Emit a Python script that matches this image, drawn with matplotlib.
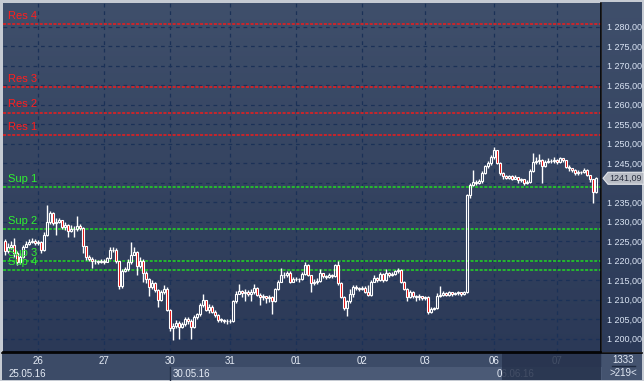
import numpy as np
import matplotlib
matplotlib.use("Agg")
import matplotlib.pyplot as plt
from matplotlib.patches import Rectangle, Polygon
from matplotlib.colors import LinearSegmentedColormap
from matplotlib.lines import Line2D

plt.rcParams['font.family'] = ['Liberation Sans', 'DejaVu Sans']

# ---------------- data ----------------
first_open = 1225.0
closes = [1222.5, 1223.5, 1224, 1222, 1219.5, 1221, 1223.5, 1224.2, 1224.8, 1225,
          1224.6, 1224.8, 1222.7, 1226.5, 1229.8, 1232.2, 1229.6, 1230, 1230.3, 1228.6,
          1229, 1227.6, 1228.2, 1228, 1228.8, 1228.4, 1223.6, 1220.8, 1220.4, 1219.9,
          1219.8, 1219.6, 1219.8, 1219.7, 1220.6, 1222.6, 1222.8, 1219.8, 1213.5, 1217.3,
          1217.8, 1219.5, 1221.5, 1222.2, 1218.5, 1220, 1216.8, 1215.2, 1213.2, 1214.2,
          1212.4, 1210, 1211.8, 1212.8, 1207.4, 1202.8, 1203.2, 1204, 1203, 1203.6,
          1205, 1204.6, 1203, 1205.4, 1206.2, 1208.6, 1209.8, 1207.4, 1208.2, 1206.8,
          1206, 1204.8, 1204.8, 1204.6, 1204.4, 1204.6, 1209.5, 1211.5, 1212.2, 1211.6,
          1212, 1211.4, 1211.8, 1213, 1211.2, 1210.6, 1210.8, 1210.4, 1210.6, 1209.6,
          1212.6, 1214.6, 1216.3, 1216.2, 1216.8, 1214.6, 1215.2, 1215.3, 1215.2, 1216.5,
          1218.8, 1216.3, 1214.2, 1214.6, 1214.8, 1216.8, 1216, 1215.8, 1216.2, 1216,
          1218.8, 1214.2, 1210.7, 1207.8, 1209.5, 1211.5, 1213.2, 1213, 1212.6, 1213,
          1212, 1211.2, 1214.5, 1215.5, 1215, 1216.6, 1215, 1216.8, 1216.2, 1216.6,
          1217.2, 1217.6, 1214.5, 1212.8, 1210.6, 1212, 1210.8, 1210.6, 1210.8, 1210.4,
          1210.6, 1206.8, 1207.5, 1207.8, 1211, 1211.2, 1211.6, 1211.2, 1211.8, 1211.4,
          1211.6, 1211.8, 1211.5, 1211.8, 1236.8, 1239.3, 1240.2, 1240, 1240.4, 1242.5,
          1244.2, 1245, 1246.5, 1248.3, 1245, 1242.4, 1241.6, 1241.2, 1241.6, 1241,
          1241.4, 1240.6, 1240.8, 1239.8, 1240.2, 1243, 1245.2, 1245.5, 1245.8, 1244.2,
          1245.2, 1245.6, 1245.4, 1245.8, 1245.3, 1246.2, 1245.8, 1244, 1243.6, 1243.2,
          1242.5, 1242.8, 1242.6, 1243.2, 1241.9, 1240.8, 1237.5, 1241.09]
highs = [1225.5, 1224.5, 1225, 1225.8, 1222.5, 1221.8, 1224, 1225, 1225.6, 1225.8,
         1225.4, 1225.3, 1225, 1227.2, 1234.3, 1232.8, 1232.4, 1230.8, 1231, 1230.5,
         1229.8, 1229.4, 1229, 1228.8, 1231.5, 1229.3, 1228.6, 1223.8, 1221.4, 1220.8,
         1220.4, 1220.2, 1220.4, 1220.3, 1221, 1223.5, 1223.4, 1223.2, 1220, 1217.8,
         1218.4, 1220.3, 1224.8, 1223.5, 1222.4, 1220.8, 1220.4, 1217.2, 1215.6, 1215,
         1214.4, 1212.6, 1212.4, 1213.6, 1213.2, 1207.6, 1204, 1204.8, 1204.4, 1204.2,
         1205.6, 1205.4, 1205, 1206, 1206.6, 1209, 1211.4, 1210, 1208.8, 1208.6,
         1207.4, 1206.4, 1205.2, 1205, 1205, 1205, 1209.8, 1212.2, 1214, 1212.4,
         1212.8, 1212.4, 1212.6, 1214, 1213.2, 1211.6, 1211.4, 1211, 1211.2, 1210.8,
         1213, 1215, 1218, 1217, 1217.2, 1217.2, 1215.8, 1215.8, 1215.6, 1217,
         1219.6, 1219, 1216.4, 1215.2, 1215.4, 1217.8, 1216.8, 1216.4, 1216.8, 1216.5,
         1219.2, 1220, 1214.4, 1210.8, 1210, 1212.8, 1213.6, 1213.6, 1213.2, 1213.5,
         1213.4, 1213.8, 1215, 1216.2, 1215.8, 1217, 1216.8, 1217.9, 1217, 1217,
         1217.6, 1218, 1217.8, 1214.8, 1213, 1212.4, 1212.2, 1211.2, 1211.4, 1211,
         1211, 1210.8, 1208, 1208.2, 1211.6, 1213.5, 1212.2, 1212, 1212.2, 1212,
         1212, 1212.2, 1212, 1212.2, 1237, 1240, 1243.2, 1240.6, 1241, 1243,
         1244.6, 1245.6, 1247, 1249, 1248.4, 1245.2, 1242.6, 1242, 1242, 1241.8,
         1241.8, 1241.4, 1241.2, 1240.8, 1240.6, 1243.4, 1247.5, 1246.6, 1247.2, 1246,
         1245.8, 1246.2, 1246, 1246.6, 1246, 1246.6, 1246.4, 1245.9, 1244.4, 1243.8,
         1243.4, 1243.2, 1243, 1243.6, 1243.4, 1242, 1241, 1241.5]
lows = [1221.5, 1222, 1223, 1220.8, 1218.8, 1219, 1220.6, 1223.4, 1224, 1224.4,
        1224, 1224, 1222, 1222.4, 1226.3, 1229.4, 1229, 1226.5, 1229.6, 1228,
        1227.8, 1226, 1227.2, 1226, 1227.6, 1227.8, 1222, 1220.2, 1219.8, 1218,
        1219.2, 1219, 1219.3, 1219.2, 1219.5, 1220.4, 1222.2, 1219.4, 1212.8, 1213,
        1217, 1217.4, 1219, 1221.5, 1216.2, 1218, 1214.6, 1214.2, 1211, 1212.8,
        1211.8, 1208, 1209.6, 1211.4, 1207, 1202, 1199.5, 1202.6, 1200, 1202.8,
        1203.2, 1203.8, 1200, 1202.6, 1205, 1205.8, 1208.2, 1207, 1206.6, 1206.5,
        1205.6, 1204.3, 1204.2, 1204.1, 1203.8, 1204, 1204.2, 1209.2, 1211.4, 1210.6,
        1209.5, 1210.8, 1209.6, 1211.4, 1210.8, 1208.6, 1209.8, 1209, 1209.4, 1206.4,
        1209.4, 1212.4, 1214.5, 1215.6, 1215.8, 1214.2, 1214.4, 1214.8, 1214.6, 1215,
        1216.3, 1216, 1212, 1213.8, 1214, 1214.4, 1215.4, 1215.2, 1215.6, 1215.5,
        1215.8, 1213.8, 1210.4, 1207.4, 1205.8, 1209.2, 1210.6, 1212.4, 1212.2, 1212.4,
        1211.6, 1210.9, 1211, 1214.8, 1214.6, 1214.8, 1214.6, 1214.8, 1215.8, 1215.9,
        1216.2, 1216.9, 1214.2, 1212.5, 1209.6, 1210.4, 1210.4, 1209.6, 1210, 1209.8,
        1210, 1206.4, 1206.6, 1207.2, 1207.6, 1210.6, 1210.8, 1210.8, 1211, 1211,
        1211.2, 1211.2, 1211, 1211.2, 1211.6, 1236, 1239, 1239.4, 1239.6, 1240,
        1242.2, 1243.8, 1244.6, 1246, 1244.8, 1242, 1241, 1240.8, 1240.8, 1240.6,
        1240.8, 1240, 1240.2, 1239.4, 1239.6, 1239.8, 1242.6, 1244.8, 1244.8, 1240,
        1244, 1245, 1244.9, 1245, 1244.8, 1245, 1245.3, 1243.6, 1243, 1242.6,
        1242, 1242, 1242.2, 1242.4, 1241.6, 1240.2, 1234.7, 1237.2]

day_labels = ["26", "27", "30", "31", "01", "02", "03", "06", "07"]
day_start = [11, 33, 55, 75, 97, 119, 140, 163, 184]
date_labels = ["25.05.16", "30.05.16", "06.06.16"]
date_pos = [1, 56, 164]

res_names = ["Res 1", "Res 2", "Res 3", "Res 4"]
res_values = [1252.1, 1257.9, 1264.4, 1280.6]
sup_names = ["Sup 1", "Sup 2", "Sup 3", "Sup 4"]
sup_values = [1238.8, 1228.0, 1219.8, 1217.5]

ytick_values = list(range(1200, 1281, 5))
last_price = 1241.09
last_price_text = "1241,09"
bar_count = "1333"
bar_visible = ">219<"

# ---------------- figure ----------------
W, H = 644, 381
fig = plt.figure(figsize=(W / 100, H / 100), dpi=100)
fig.patch.set_facecolor('#c6cbd3')

def fr(x, y):
    return x / W, 1 - y / H

def rect(x0, y0, x1, y1, color, z=-1, alpha=1.0):
    fx0, fy1 = fr(x0, y1)
    r = Rectangle((fx0, fy1), (x1 - x0) / W, (y1 - y0) / H, transform=fig.transFigure,
                  facecolor=color, edgecolor='none', zorder=z, alpha=alpha)
    fig.add_artist(r)

grad_cmap = LinearSegmentedColormap.from_list('bg', ['#2b3957', '#3f4f6b'])
bgax = fig.add_axes([0, 0, 1, 1], zorder=-2)
bgax.set_axis_off()
bgax.set_xlim(0, W)
bgax.set_ylim(H, 0)
grad = np.linspace(0, 1, 256)[:, None]
bgax.imshow(grad, extent=[602, 642, 352, 2], cmap=grad_cmap, aspect='auto', origin='lower')
bgax.add_patch(Rectangle((2, 353), 600, 27, facecolor='#3c4b67', edgecolor='none'))
bgax.add_patch(Rectangle((170, 367), 432, 13, facecolor='#4b5a76', edgecolor='none'))
bgax.add_patch(Rectangle((602, 353), 40, 27, facecolor='#44536f', edgecolor='none'))

ax = fig.add_axes([3 / W, (H - 352) / H, 598 / W, 349 / H])
n = len(closes)
ax.set_xlim(-0.7, 198.7)
ax.set_ylim(1196.54, 1286.03)
ax.imshow(grad, extent=[-0.7, 198.7, 1196.54, 1286.03], cmap=grad_cmap,
          aspect='auto', origin='lower', zorder=0)

# grid
for yv in ytick_values:
    ax.axhline(yv, color='#1b3157', lw=0.9, ls=(0, (3, 3)), zorder=1)
for xv in day_start:
    ax.axvline(xv, color='#1b3157', lw=0.9, ls=(0, (3, 3)), zorder=1)

# levels
for name, v in zip(res_names, res_values):
    ax.axhline(v, color='#f01c1c', lw=1.1, ls=(0, (2, 1)), zorder=2)
    ax.annotate(name, (1, v), xytext=(0, 2.5), textcoords='offset points',
                color='#ff1e1e', fontsize=8, va='bottom', ha='left', zorder=5)
for name, v in zip(sup_names, sup_values):
    ax.axhline(v, color='#24d824', lw=1.1, ls=(0, (2, 1)), zorder=2)
    ax.annotate(name, (1, v), xytext=(0, 2.5), textcoords='offset points',
                color='#30f030', fontsize=8, va='bottom', ha='left', zorder=5)

# candles
opens = [first_open] + closes[:-1]
for i in range(n):
    o, c = opens[i], closes[i]
    top, bot = max(o, c), min(o, c)
    hi, lo = max(highs[i], top), min(lows[i], bot)
    ax.plot([i, i], [top, hi], color='white', lw=1.0, zorder=3, solid_capstyle='butt')
    ax.plot([i, i], [lo, bot], color='white', lw=1.0, zorder=3, solid_capstyle='butt')
    face = '#e00000' if c < o else 'none'
    hgt = max(top - bot, 0.15)
    ax.add_patch(Rectangle((i - 0.33, bot), 0.66, hgt, facecolor=face,
                           edgecolor='white', lw=0.8, zorder=4))

# axes styling
for s in ['left', 'top']:
    ax.spines[s].set_visible(False)
ax.spines['right'].set_color('black')
ax.spines['bottom'].set_color('black')
ax.spines['right'].set_linewidth(1.2)
ax.spines['bottom'].set_linewidth(1.2)
ax.yaxis.tick_right()
ax.set_yticks(ytick_values)
# the 1 240,00 label sits under the last-price tag in the reference
ax.set_yticklabels(["" if v == 1240 else f"{v // 1000} {v % 1000:03d},00"
                    for v in ytick_values])
ax.tick_params(axis='y', length=0, pad=4, labelsize=6.5, labelcolor='#dae4f4')
ax.set_xticks(day_start)
ax.set_xticklabels(day_labels)
ax.tick_params(axis='x', length=0, pad=3, labelsize=7, labelcolor='#e6ecf6')

for lab, p in zip(date_labels, date_pos):
    ax.text(p, -0.063, lab, transform=ax.get_xaxis_transform(), fontsize=7,
            color='#e6ecf6', ha='left', va='center', clip_on=False)

# separators / overlays in figure pixel coords
fig.add_artist(Line2D([170 / W, 170 / W], [1 - 367 / H, 1 - 380 / H],
                      transform=fig.transFigure, color='#26324a', lw=1, zorder=2))
rect(502, 353, 601, 380, '#26324c', z=3, alpha=0.85)
fig.add_artist(Line2D([2 / W, 642 / W], [1 - 352.5 / H, 1 - 352.5 / H],
                      transform=fig.transFigure, color='black', lw=1.2, zorder=4))

# bottom-right counter
fig.text(623 / W, 1 - 360 / H, bar_count, ha='center', va='center', fontsize=7,
         color='#e2e9f5', zorder=5)
fig.add_artist(Line2D([612 / W, 635 / W], [1 - 366 / H, 1 - 366 / H],
                      transform=fig.transFigure, color='#1e2a40', lw=1, zorder=5))
fig.text(623 / W, 1 - 373 / H, bar_visible, ha='center', va='center', fontsize=7,
         color='#e2e9f5', zorder=5)

# last price tag
yp = ax.transData.transform((0, last_price))[1]
ypix = H - yp
tag = Polygon([(603 / W, 1 - ypix / H), (608 / W, 1 - (ypix - 6) / H), (644 / W, 1 - (ypix - 6) / H),
               (644 / W, 1 - (ypix + 6) / H), (608 / W, 1 - (ypix + 6) / H)],
              closed=True, transform=fig.transFigure, facecolor='#b9bdc5',
              edgecolor='#e4e6ea', lw=0.8, zorder=6)
fig.add_artist(tag)
fig.text(609 / W, 1 - ypix / H, last_price_text, ha='left', va='center', fontsize=6.5,
         color='#2a3040', zorder=7)

fig.savefig("out.png", dpi=100, facecolor=fig.get_facecolor())
